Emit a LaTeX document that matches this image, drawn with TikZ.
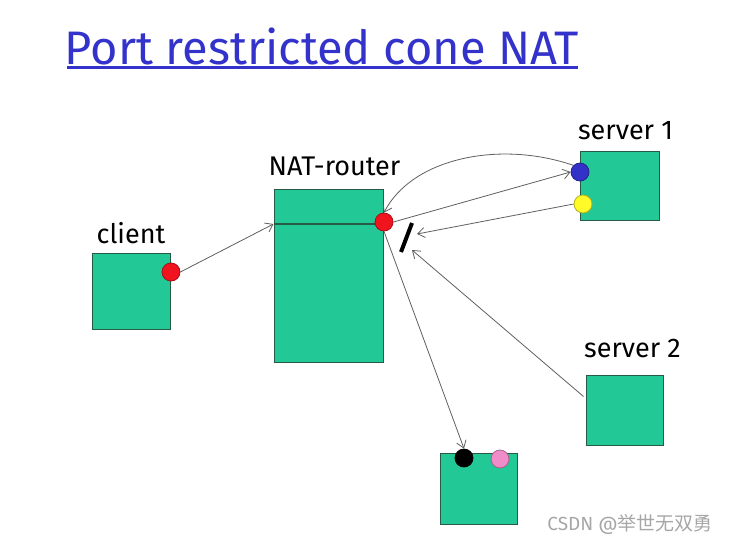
\documentclass[tikz,border=0pt]{standalone}
\usepackage{fontspec}
\setmainfont{Fira Sans}
\newfontfamily\cjk{Noto Sans CJK SC}
\usetikzlibrary{arrows.meta,positioning}
\definecolor{boxgreen}{RGB}{34,201,151}
\definecolor{boxedge}{RGB}{40,90,70}
\definecolor{titleblue}{RGB}{51,51,204}
\definecolor{msggray}{RGB}{95,95,95}
\definecolor{portred}{RGB}{240,20,30}
\definecolor{portblue}{RGB}{50,50,200}
\definecolor{portyellow}{RGB}{255,250,40}
\definecolor{portpink}{RGB}{240,140,200}

\begin{document}
\begin{tikzpicture}[x=0.5pt,y=-0.5pt,
  host/.style={rectangle,draw=boxedge,fill=boxgreen,line width=0.5pt,inner sep=0pt},
  port/.style={circle,draw=#1!70!black,fill=#1,line width=0.4pt,minimum size=9pt,inner sep=0pt},
  msg/.style={draw=msggray,line width=0.4pt,-{Straight Barb[length=3.5pt,width=5pt]}},
  lbl/.style={font=\fontsize{13.5}{15}\selectfont,inner sep=1pt}]
\useasboundingbox (0,0) rectangle (729,547);

% title
\node[font=\fontsize{23.5}{27}\selectfont,text=titleblue] (title) at (322,46) {Port restricted cone NAT};
\draw[titleblue,line width=1.5pt] (67,67) -- (578,67);

% hosts
\node[host,minimum width=39pt,minimum height=38pt] (client) at (131,291) {};
\node[host,minimum width=54.5pt,minimum height=86.5pt] (router) at (328.5,275.5) {};
\node[host,minimum width=39.5pt,minimum height=34.5pt] (server1) at (619.5,185.5) {};
\node[host,minimum width=38.5pt,minimum height=35pt] (server2) at (624.5,410) {};
\node[host,minimum width=38.5pt,minimum height=35.5pt] (peer) at (478.5,488.5) {};

\node[lbl,above=3pt of client] (clientlbl) {client};
\node[lbl,above=5pt of router,xshift=3pt] (routerlbl) {NAT-router};
\node[lbl,above=4pt of server1,xshift=3pt] (server1lbl) {server 1};
\node[lbl,above=7pt of server2,xshift=4pt] (server2lbl) {server 2};

\draw[boxedge,line width=0.6pt] (router.west |- 0,224) -- (router.east |- 0,224);

% ports
\node[port=portred] (cport) at (171,272) {};
\node[port=portred] (rport) at (384,222) {};
\node[port=portblue] (bport) at (580,172) {};
\node[port=portyellow] (yport) at (583,204) {};
\node[port=black] (kport) at (464,458) {};
\node[port=portpink] (pport) at (500,459) {};

% blocked
\coordinate (blk1) at (412,223);
\coordinate (blk2) at (401,252);
\draw[black,line width=2pt] (blk1) -- (blk2);
\coordinate (blkin1) at (417,234);
\coordinate (blkin2) at (412,250);

% messages
\draw[msg] (cport.east) -- (router.west |- 0,224);
\draw[msg] (rport.east) -- (bport.west);
\draw[msg] (bport.north west) .. controls (500,140) and (412,158) .. (rport.north);
\draw[msg] (yport.west) -- (blkin1);
\draw[msg] (server2.north west) ++(-2,22) coordinate (s2out) (s2out) -- (blkin2);
\draw[msg] (rport.south) -- (kport.north);

\node[text=gray!70,font=\fontsize{9.5}{11}\selectfont] (mark) at (630,524) {CSDN @{\cjk 举世无双勇}};
\end{tikzpicture}
\end{document}
